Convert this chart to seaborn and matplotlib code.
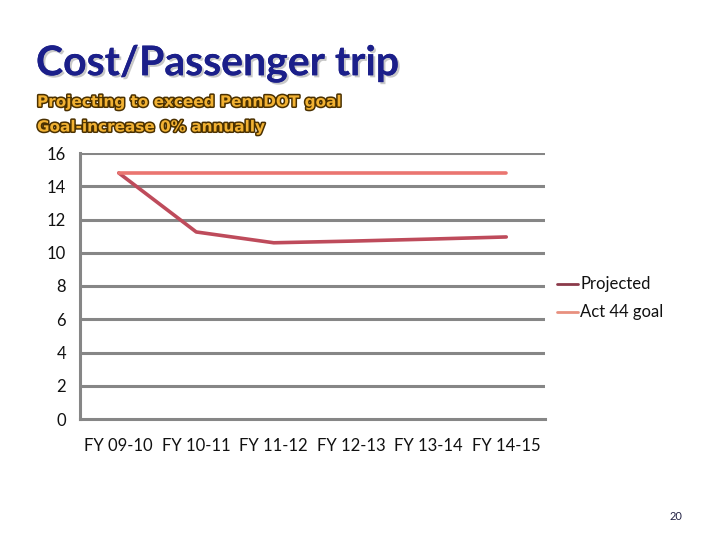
import matplotlib
matplotlib.use("Agg")
import matplotlib.pyplot as plt
import matplotlib.patheffects as pe
import seaborn as sns
import pandas as pd

categories = ["FY 09-10", "FY 10-11", "FY 11-12", "FY 12-13", "FY 13-14", "FY 14-15"]
projected = [14.8, 11.25, 10.6, 10.7, 10.82, 10.95]
act44_goal = [14.8, 14.8, 14.8, 14.8, 14.8, 14.8]
y_ticks = [0, 2, 4, 6, 8, 10, 12, 14, 16]

sns.set_style("white")
plt.rcParams['font.family'] = ['Lato', 'DejaVu Sans']

df = pd.DataFrame({
    "cat": categories * 2,
    "x": list(range(len(categories))) * 2,
    "value": projected + act44_goal,
    "series": ["Projected"] * len(categories) + ["Act 44 goal"] * len(categories),
})

fig = plt.figure(figsize=(7.2, 5.4), dpi=100)
ax = fig.add_axes([80/720, 1-419/540, 465/720, 266/540])

for y in y_ticks[1:]:
    ax.axhline(y, color="#868686", lw=2.2, zorder=0)

sns.lineplot(data=df, x="x", y="value", hue="series",
             palette={"Projected": "#BE4B5B", "Act 44 goal": "#EA7570"},
             linewidth=2.6, ax=ax, legend=False, zorder=3)

ax.set_xlim(-0.5, len(categories) - 0.5)
ax.set_ylim(0, 16)
ax.set_yticks(y_ticks)
ax.set_yticklabels([str(v) for v in y_ticks], fontsize=12, color="#111111")
ax.set_xticks([i - 0.5 for i in range(len(categories) + 1)])
ax.set_xticklabels([])
ax.set_xticks(range(len(categories)), minor=True)
ax.set_xticklabels(categories, minor=True, fontsize=12, color="#111111")
ax.tick_params(axis="x", which="major", direction="out", length=6, width=2, color="#868686")
ax.tick_params(axis="x", which="minor", length=0, pad=14)
ax.tick_params(axis="y", direction="out", length=6, width=2, color="#868686", pad=4)
ax.set_xlabel("")
ax.set_ylabel("")
for s in ["top", "right"]:
    ax.spines[s].set_visible(False)
for s in ["left", "bottom"]:
    ax.spines[s].set_color("#868686")
    ax.spines[s].set_linewidth(2.2)

# legend
fig.lines.append(plt.Line2D([557/720, 578/720], [1-284/540]*2, color="#8B3A4A", lw=2, transform=fig.transFigure))
fig.lines.append(plt.Line2D([557/720, 578/720], [1-312/540]*2, color="#E8907F", lw=2, transform=fig.transFigure))
fig.text(580/720, 1-284/540, "Projected", fontsize=12, va="center", ha="left", color="#111111")
fig.text(580/720, 1-312/540, "Act 44 goal", fontsize=12, va="center", ha="left", color="#111111")

# title
fig.text(36/720, 1-64/540, "Cost/Passenger trip", fontsize=29.5, fontweight="bold",
         color="#1B1F8A", va="center", ha="left",
         path_effects=[pe.withSimplePatchShadow(offset=(1.5, -1.5), shadow_rgbFace="#BBBBBB", alpha=0.8), pe.Normal()])
sub_fx = [pe.withStroke(linewidth=2.2, foreground="#4A3000")]
fig.text(37/720, 1-102/540, "Projecting to exceed PennDOT goal", fontsize=11, fontweight="bold",
         family=["DejaVu Sans"], color="#F2B233", va="center", ha="left", path_effects=sub_fx)
fig.text(37/720, 1-127/540, "Goal-increase 0% annually", fontsize=11, fontweight="bold",
         family=["DejaVu Sans"], color="#F2B233", va="center", ha="left", path_effects=sub_fx)

fig.text(676/720, 1-517/540, "20", fontsize=8, color="#222244", ha="center", va="center")

fig.savefig("out.png", dpi=100)
